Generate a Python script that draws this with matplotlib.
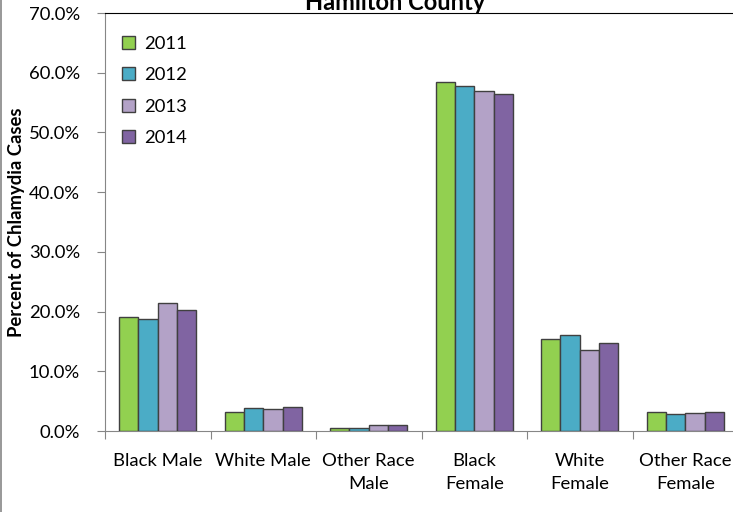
import matplotlib.pyplot as plt
import numpy as np
from matplotlib.lines import Line2D
from matplotlib.ticker import PercentFormatter

plt.rcParams['font.family'] = ['Lato', 'DejaVu Sans']

# data
groups = ['Black Male', 'White Male', 'Other Race\nMale', 'Black\nFemale', 'White\nFemale', 'Other Race\nFemale']
years = ['2011', '2012', '2013', '2014']
v2011 = [19.1, 3.2, 0.45, 58.4, 15.4, 3.1]
v2012 = [18.7, 3.8, 0.45, 57.7, 16.1, 2.8]
v2013 = [21.5, 3.7, 0.95, 56.9, 13.6, 2.95]
v2014 = [20.3, 4.0, 0.95, 56.5, 14.8, 3.1]
series = [v2011, v2012, v2013, v2014]
colors = ['#92D050', '#4BACC6', '#B3A2C7', '#8064A2']

fig = plt.figure(figsize=(7.33, 5.12), dpi=100)
ax = fig.add_axes([105 / 733, 81 / 512, 633 / 733, 418 / 512])

x = np.arange(len(groups))
w = 0.183
for i, (vals, c) in enumerate(zip(series, colors)):
    ax.bar(x + (i - 1.5) * w, vals, width=w, color=c, edgecolor='#404040',
           linewidth=1, label=years[i], zorder=3)

ax.set_xlim(-0.5, len(groups) - 0.5)
ax.set_ylim(0, 70)
ax.set_yticks(np.arange(0, 71, 10))
ax.yaxis.set_major_formatter(PercentFormatter(decimals=1))

# category boundary ticks, labels in between
ax.set_xticks(np.arange(-0.5, len(groups), 1.0))
ax.set_xticklabels([])
ax.set_xticks(x, minor=True)
ax.set_xticklabels(groups, minor=True, fontsize=13.3, linespacing=1.5, va='top')
ax.tick_params(axis='x', which='minor', length=0, pad=16)
ax.tick_params(axis='x', which='major', direction='out', length=6, color='#868686')
ax.tick_params(axis='y', direction='out', length=6, color='#868686', labelsize=13.3, pad=12)

for s in ['left', 'bottom']:
    ax.spines[s].set_color('#868686')
ax.spines['top'].set_color('black')
ax.spines['right'].set_visible(False)

ax.set_ylabel('Percent of Chlamydia Cases', fontsize=13.3, fontweight='bold', labelpad=3)

ax.legend(loc='upper left', bbox_to_anchor=(0.0, 0.985), frameon=False, fontsize=13.3,
          handlelength=0.7, handleheight=0.7, handletextpad=0.5, labelspacing=0.83,
          borderaxespad=0.5)

fig.text(395 / 733, 0.996, 'Hamilton County', ha='center', va='center',
         fontsize=17, fontweight='bold')

fig.add_artist(Line2D([0.002, 0.002], [0, 1], transform=fig.transFigure,
                      color='#868686', linewidth=1.2))

fig.savefig('out.png', dpi=100)
